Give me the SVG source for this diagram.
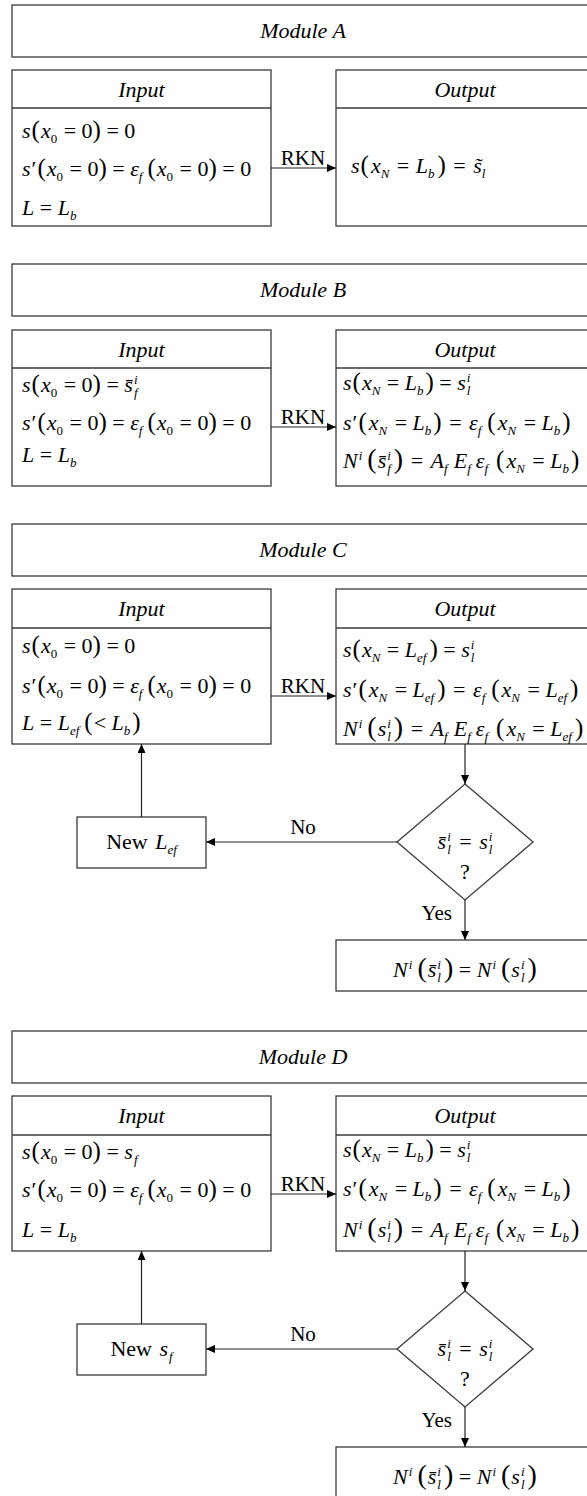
<svg xmlns="http://www.w3.org/2000/svg" width="587" height="1496" viewBox="0 0 587 1496">
  <style>
    .bx { fill: #fff; stroke: #3a3a3a; stroke-width: 1.3; }
    .sep { stroke: #3a3a3a; stroke-width: 1.3; }
    .cn { fill: none; stroke: #222; stroke-width: 1.2; }
    .m { font-family: "Liberation Serif", "DejaVu Serif", "Times New Roman", Times, serif; font-size: 22px; fill: #000; }
    .lb { font-family: "Liberation Serif", "DejaVu Serif", "Times New Roman", Times, serif; font-size: 21px; fill: #000; }
    .i { font-style: italic; }
    .s { font-size: 13px; }
    .p { font-size: 25px; }
    .P { font-size: 28px; }
    .c { text-anchor: middle; }
  </style>
  <defs>
    <marker id="ah" markerUnits="userSpaceOnUse" markerWidth="9" markerHeight="8" refX="9" refY="4" orient="auto">
      <path d="M0,0 L9,4 L0,8 z" fill="#000"/>
    </marker>
  </defs>

  <!-- ===== Module A ===== -->
  <g id="moduleA">
    <rect class="bx" x="12" y="5" width="582" height="52"/>
    <text class="m i c" x="303" y="38">Module A</text>
  </g>
  <g id="inputA">
    <rect class="bx" x="12" y="70" width="259" height="156"/>
    <line class="sep" x1="12" y1="108" x2="271" y2="108"/>
    <text class="m i c" x="141.5" y="97">Input</text>
    <text class="m" x="22" y="138"><tspan class="i">s</tspan><tspan class="p" dx="1">(</tspan><tspan class="i" dx="1">x</tspan><tspan class="s" dy="5">0</tspan><tspan dy="-5" dx="1"> = 0</tspan><tspan class="p">)</tspan> = 0</text>
    <text class="m" x="22" y="176"><tspan class="i">s</tspan><tspan dx="1">′</tspan><tspan class="p" dx="1">(</tspan><tspan class="i" dx="1">x</tspan><tspan class="s" dy="5">0</tspan><tspan dy="-5" dx="1"> = 0</tspan><tspan class="p">)</tspan> = <tspan class="i">ε</tspan><tspan class="s i" dy="5">f</tspan><tspan class="p" dy="-5" dx="5">(</tspan><tspan class="i" dx="1">x</tspan><tspan class="s" dy="5">0</tspan><tspan dy="-5" dx="1"> = 0</tspan><tspan class="p">)</tspan> = 0</text>
    <text class="m" x="22" y="215"><tspan class="i">L</tspan> = <tspan class="i">L</tspan><tspan class="s i" dy="5">b</tspan></text>
  </g>
  <g id="outputA">
    <rect class="bx" x="336" y="70" width="258" height="156"/>
    <line class="sep" x1="336" y1="108" x2="594" y2="108"/>
    <text class="m i c" x="465" y="97">Output</text>
    <text class="m" x="351" y="173"><tspan class="i">s</tspan><tspan class="p" dx="1">(</tspan><tspan class="i" dx="2">x</tspan><tspan class="s i" dy="5">N</tspan><tspan dy="-5" dx="2"> = </tspan><tspan class="i" dx="1">L</tspan><tspan class="s i" dy="5">b</tspan><tspan class="p" dy="-5" dx="3">)</tspan><tspan dx="2"> = </tspan><tspan class="i" dx="2">s̃</tspan><tspan class="s i" dy="5">l</tspan></text>
  </g>

  <!-- ===== Module B ===== -->
  <g id="moduleB">
    <rect class="bx" x="12" y="264" width="582" height="52"/>
    <text class="m i c" x="303" y="297">Module B</text>
  </g>
  <g id="inputB">
    <rect class="bx" x="12" y="330" width="259" height="156"/>
    <line class="sep" x1="12" y1="368" x2="271" y2="368"/>
    <text class="m i c" x="141.5" y="357">Input</text>
    <text class="m" x="22" y="392"><tspan class="i">s</tspan><tspan class="p" dx="1">(</tspan><tspan class="i" dx="1">x</tspan><tspan class="s" dy="5">0</tspan><tspan dy="-5" dx="1"> = 0</tspan><tspan class="p">)</tspan> = <tspan class="i">s̄</tspan><tspan class="s i" dy="-8" dx="1">i</tspan><tspan class="s i" dx="-3.6" dy="13">f</tspan></text>
    <text class="m" x="22" y="430"><tspan class="i">s</tspan><tspan dx="1">′</tspan><tspan class="p" dx="1">(</tspan><tspan class="i" dx="1">x</tspan><tspan class="s" dy="5">0</tspan><tspan dy="-5" dx="1"> = 0</tspan><tspan class="p">)</tspan> = <tspan class="i">ε</tspan><tspan class="s i" dy="5">f</tspan><tspan class="p" dy="-5" dx="5">(</tspan><tspan class="i" dx="1">x</tspan><tspan class="s" dy="5">0</tspan><tspan dy="-5" dx="1"> = 0</tspan><tspan class="p">)</tspan> = 0</text>
    <text class="m" x="22" y="462"><tspan class="i">L</tspan> = <tspan class="i">L</tspan><tspan class="s i" dy="5">b</tspan></text>
  </g>
  <g id="outputB">
    <rect class="bx" x="336" y="330" width="258" height="156"/>
    <line class="sep" x1="336" y1="368" x2="594" y2="368"/>
    <text class="m i c" x="465" y="357">Output</text>
    <text class="m" x="343" y="390"><tspan class="i">s</tspan><tspan class="p" dx="1">(</tspan><tspan class="i" dx="1">x</tspan><tspan class="s i" dy="5">N</tspan><tspan dy="-5" dx="1"> = </tspan><tspan class="i">L</tspan><tspan class="s i" dy="5">b</tspan><tspan class="p" dy="-5" dx="2">)</tspan> = <tspan class="i">s</tspan><tspan class="s i" dy="-8" dx="1">i</tspan><tspan class="s i" dx="-3.6" dy="13">l</tspan></text>
    <text class="m" x="343" y="430"><tspan class="i">s</tspan><tspan dx="1">′</tspan><tspan class="p" dx="1">(</tspan><tspan class="i" dx="2">x</tspan><tspan class="s i" dy="5">N</tspan><tspan dy="-5" dx="2"> = </tspan><tspan class="i">L</tspan><tspan class="s i" dy="5">b</tspan><tspan class="p" dy="-5" dx="2">)</tspan><tspan dx="2"> = </tspan><tspan class="i" dx="2">ε</tspan><tspan class="s i" dy="5">f</tspan><tspan class="p" dy="-5" dx="6">(</tspan><tspan class="i" dx="2">x</tspan><tspan class="s i" dy="5">N</tspan><tspan dy="-5" dx="2"> = </tspan><tspan class="i">L</tspan><tspan class="s i" dy="5">b</tspan><tspan class="p" dy="-5" dx="2">)</tspan></text>
    <text class="m" x="343" y="468"><tspan class="i">N</tspan><tspan class="s i" dy="-8" dx="1">i</tspan><tspan class="P" dy="8" dx="5">(</tspan><tspan class="i" dx="1">s̄</tspan><tspan class="s i" dy="-8" dx="1">i</tspan><tspan class="s i" dx="-3.6" dy="13">f</tspan><tspan class="P" dy="-5" dx="3">)</tspan><tspan dx="2"> = </tspan><tspan class="i" dx="2">A</tspan><tspan class="s i" dy="5">f</tspan><tspan class="i" dy="-5" dx="6">E</tspan><tspan class="s i" dy="5">f</tspan><tspan class="i" dy="-5" dx="5">ε</tspan><tspan class="s i" dy="5">f</tspan><tspan class="p" dy="-5" dx="8">(</tspan><tspan class="i" dx="2">x</tspan><tspan class="s i" dy="5">N</tspan><tspan dy="-5" dx="2"> = </tspan><tspan class="i">L</tspan><tspan class="s i" dy="5">b</tspan><tspan class="p" dy="-5" dx="2">)</tspan></text>
  </g>

  <!-- ===== Module C ===== -->
  <g id="moduleC">
    <rect class="bx" x="12" y="524" width="582" height="52"/>
    <text class="m i c" x="303" y="557">Module C</text>
  </g>
  <g id="inputC">
    <rect class="bx" x="12" y="589" width="259" height="155"/>
    <line class="sep" x1="12" y1="628" x2="271" y2="628"/>
    <text class="m i c" x="141.5" y="616">Input</text>
    <text class="m" x="22" y="653"><tspan class="i">s</tspan><tspan class="p" dx="1">(</tspan><tspan class="i" dx="1">x</tspan><tspan class="s" dy="5">0</tspan><tspan dy="-5" dx="1"> = 0</tspan><tspan class="p">)</tspan> = 0</text>
    <text class="m" x="22" y="693"><tspan class="i">s</tspan><tspan dx="1">′</tspan><tspan class="p" dx="1">(</tspan><tspan class="i" dx="1">x</tspan><tspan class="s" dy="5">0</tspan><tspan dy="-5" dx="1"> = 0</tspan><tspan class="p">)</tspan> = <tspan class="i">ε</tspan><tspan class="s i" dy="5">f</tspan><tspan class="p" dy="-5" dx="5">(</tspan><tspan class="i" dx="1">x</tspan><tspan class="s" dy="5">0</tspan><tspan dy="-5" dx="1"> = 0</tspan><tspan class="p">)</tspan> = 0</text>
    <text class="m" x="22" y="730"><tspan class="i">L</tspan> = <tspan class="i">L</tspan><tspan class="s i" dy="5">ef</tspan><tspan class="p" dy="-5" dx="5">(</tspan><tspan dx="1">&lt; </tspan><tspan class="i">L</tspan><tspan class="s i" dy="5">b</tspan><tspan class="p" dy="-5" dx="2">)</tspan></text>
  </g>
  <g id="outputC">
    <rect class="bx" x="336" y="589" width="258" height="155"/>
    <line class="sep" x1="336" y1="628" x2="594" y2="628"/>
    <text class="m i c" x="465" y="616">Output</text>
    <text class="m" x="343" y="657"><tspan class="i">s</tspan><tspan class="p" dx="1">(</tspan><tspan class="i" dx="1">x</tspan><tspan class="s i" dy="5">N</tspan><tspan dy="-5" dx="1"> = </tspan><tspan class="i">L</tspan><tspan class="s i" dy="5">ef</tspan><tspan class="p" dy="-5" dx="3">)</tspan> = <tspan class="i">s</tspan><tspan class="s i" dy="-8" dx="1">i</tspan><tspan class="s i" dx="-3.6" dy="13">l</tspan></text>
    <text class="m" x="343" y="697"><tspan class="i">s</tspan><tspan dx="1">′</tspan><tspan class="p" dx="1">(</tspan><tspan class="i" dx="2">x</tspan><tspan class="s i" dy="5">N</tspan><tspan dy="-5" dx="2"> = </tspan><tspan class="i">L</tspan><tspan class="s i" dy="5">ef</tspan><tspan class="p" dy="-5" dx="3">)</tspan><tspan dx="2"> = </tspan><tspan class="i" dx="2">ε</tspan><tspan class="s i" dy="5">f</tspan><tspan class="p" dy="-5" dx="6">(</tspan><tspan class="i" dx="2">x</tspan><tspan class="s i" dy="5">N</tspan><tspan dy="-5" dx="2"> = </tspan><tspan class="i">L</tspan><tspan class="s i" dy="5">ef</tspan><tspan class="p" dy="-5" dx="3">)</tspan></text>
    <text class="m" x="343" y="736"><tspan class="i">N</tspan><tspan class="s i" dy="-8" dx="1">i</tspan><tspan class="P" dy="8" dx="5">(</tspan><tspan class="i" dx="1">s</tspan><tspan class="s i" dy="-8" dx="1">i</tspan><tspan class="s i" dx="-3.6" dy="13">l</tspan><tspan class="P" dy="-5" dx="3">)</tspan><tspan dx="2"> = </tspan><tspan class="i" dx="2">A</tspan><tspan class="s i" dy="5">f</tspan><tspan class="i" dy="-5" dx="6">E</tspan><tspan class="s i" dy="5">f</tspan><tspan class="i" dy="-5" dx="5">ε</tspan><tspan class="s i" dy="5">f</tspan><tspan class="p" dy="-5" dx="8">(</tspan><tspan class="i" dx="2">x</tspan><tspan class="s i" dy="5">N</tspan><tspan dy="-5" dx="2"> = </tspan><tspan class="i">L</tspan><tspan class="s i" dy="5">ef</tspan><tspan class="p" dy="-5" dx="3">)</tspan></text>
  </g>
  <g id="decisionC">
    <polygon class="bx" points="465,784 533,842 465,900 397,842"/>
    <text class="m c" x="465" y="849"><tspan class="i">s̄</tspan><tspan class="s i" dy="-8" dx="1">i</tspan><tspan class="s i" dx="-3.6" dy="13">l</tspan><tspan dy="-5" dx="3"> = </tspan><tspan class="i" dx="2">s</tspan><tspan class="s i" dy="-8" dx="1">i</tspan><tspan class="s i" dx="-3.6" dy="13">l</tspan></text>
    <text class="m c" x="465" y="879">?</text>
  </g>
  <g id="newLefC">
    <rect class="bx" x="77" y="817" width="129" height="51"/>
    <text class="m c" x="141.5" y="849">New <tspan class="i" dx="2">L</tspan><tspan class="s i" dy="5">ef</tspan></text>
  </g>
  <g id="resultC">
    <rect class="bx" x="336" y="940" width="258" height="51"/>
    <text class="m c" x="465" y="977"><tspan class="i">N</tspan><tspan class="s i" dy="-8" dx="1">i</tspan><tspan class="P" dy="8" dx="5">(</tspan><tspan class="i" dx="1">s̄</tspan><tspan class="s i" dy="-8" dx="1">i</tspan><tspan class="s i" dx="-3.6" dy="13">l</tspan><tspan class="P" dy="-5" dx="3">)</tspan> = <tspan class="i">N</tspan><tspan class="s i" dy="-8" dx="1">i</tspan><tspan class="P" dy="8" dx="5">(</tspan><tspan class="i" dx="1">s</tspan><tspan class="s i" dy="-8" dx="1">i</tspan><tspan class="s i" dx="-3.6" dy="13">l</tspan><tspan class="P" dy="-5" dx="3">)</tspan></text>
  </g>

  <!-- ===== Module D ===== -->
  <g id="moduleD">
    <rect class="bx" x="12" y="1031" width="582" height="52"/>
    <text class="m i c" x="303" y="1064">Module D</text>
  </g>
  <g id="inputD">
    <rect class="bx" x="12" y="1096" width="259" height="155"/>
    <line class="sep" x1="12" y1="1135" x2="271" y2="1135"/>
    <text class="m i c" x="141.5" y="1123">Input</text>
    <text class="m" x="22" y="1159"><tspan class="i">s</tspan><tspan class="p" dx="1">(</tspan><tspan class="i" dx="1">x</tspan><tspan class="s" dy="5">0</tspan><tspan dy="-5" dx="1"> = 0</tspan><tspan class="p">)</tspan> = <tspan class="i">s</tspan><tspan class="s i" dy="5" dx="1">f</tspan></text>
    <text class="m" x="22" y="1197"><tspan class="i">s</tspan><tspan dx="1">′</tspan><tspan class="p" dx="1">(</tspan><tspan class="i" dx="1">x</tspan><tspan class="s" dy="5">0</tspan><tspan dy="-5" dx="1"> = 0</tspan><tspan class="p">)</tspan> = <tspan class="i">ε</tspan><tspan class="s i" dy="5">f</tspan><tspan class="p" dy="-5" dx="5">(</tspan><tspan class="i" dx="1">x</tspan><tspan class="s" dy="5">0</tspan><tspan dy="-5" dx="1"> = 0</tspan><tspan class="p">)</tspan> = 0</text>
    <text class="m" x="22" y="1237"><tspan class="i">L</tspan> = <tspan class="i">L</tspan><tspan class="s i" dy="5">b</tspan></text>
  </g>
  <g id="outputD">
    <rect class="bx" x="336" y="1096" width="258" height="155"/>
    <line class="sep" x1="336" y1="1135" x2="594" y2="1135"/>
    <text class="m i c" x="465" y="1123">Output</text>
    <text class="m" x="343" y="1157"><tspan class="i">s</tspan><tspan class="p" dx="1">(</tspan><tspan class="i" dx="1">x</tspan><tspan class="s i" dy="5">N</tspan><tspan dy="-5" dx="1"> = </tspan><tspan class="i">L</tspan><tspan class="s i" dy="5">b</tspan><tspan class="p" dy="-5" dx="2">)</tspan> = <tspan class="i">s</tspan><tspan class="s i" dy="-8" dx="1">i</tspan><tspan class="s i" dx="-3.6" dy="13">l</tspan></text>
    <text class="m" x="343" y="1196"><tspan class="i">s</tspan><tspan dx="1">′</tspan><tspan class="p" dx="1">(</tspan><tspan class="i" dx="2">x</tspan><tspan class="s i" dy="5">N</tspan><tspan dy="-5" dx="2"> = </tspan><tspan class="i">L</tspan><tspan class="s i" dy="5">b</tspan><tspan class="p" dy="-5" dx="2">)</tspan><tspan dx="2"> = </tspan><tspan class="i" dx="2">ε</tspan><tspan class="s i" dy="5">f</tspan><tspan class="p" dy="-5" dx="6">(</tspan><tspan class="i" dx="2">x</tspan><tspan class="s i" dy="5">N</tspan><tspan dy="-5" dx="2"> = </tspan><tspan class="i">L</tspan><tspan class="s i" dy="5">b</tspan><tspan class="p" dy="-5" dx="2">)</tspan></text>
    <text class="m" x="343" y="1237"><tspan class="i">N</tspan><tspan class="s i" dy="-8" dx="1">i</tspan><tspan class="P" dy="8" dx="5">(</tspan><tspan class="i" dx="1">s</tspan><tspan class="s i" dy="-8" dx="1">i</tspan><tspan class="s i" dx="-3.6" dy="13">l</tspan><tspan class="P" dy="-5" dx="3">)</tspan><tspan dx="2"> = </tspan><tspan class="i" dx="2">A</tspan><tspan class="s i" dy="5">f</tspan><tspan class="i" dy="-5" dx="6">E</tspan><tspan class="s i" dy="5">f</tspan><tspan class="i" dy="-5" dx="5">ε</tspan><tspan class="s i" dy="5">f</tspan><tspan class="p" dy="-5" dx="8">(</tspan><tspan class="i" dx="2">x</tspan><tspan class="s i" dy="5">N</tspan><tspan dy="-5" dx="2"> = </tspan><tspan class="i">L</tspan><tspan class="s i" dy="5">b</tspan><tspan class="p" dy="-5" dx="2">)</tspan></text>
  </g>
  <g id="decisionD">
    <polygon class="bx" points="465,1291 533,1349 465,1407 397,1349"/>
    <text class="m c" x="465" y="1356"><tspan class="i">s̄</tspan><tspan class="s i" dy="-8" dx="1">i</tspan><tspan class="s i" dx="-3.6" dy="13">l</tspan><tspan dy="-5" dx="3"> = </tspan><tspan class="i" dx="2">s</tspan><tspan class="s i" dy="-8" dx="1">i</tspan><tspan class="s i" dx="-3.6" dy="13">l</tspan></text>
    <text class="m c" x="465" y="1386">?</text>
  </g>
  <g id="newSfD">
    <rect class="bx" x="77" y="1324" width="129" height="51"/>
    <text class="m c" x="141.5" y="1356">New <tspan class="i" dx="2">s</tspan><tspan class="s i" dy="5" dx="1">f</tspan></text>
  </g>
  <g id="resultD">
    <rect class="bx" x="336" y="1447" width="258" height="51"/>
    <text class="m c" x="465" y="1484"><tspan class="i">N</tspan><tspan class="s i" dy="-8" dx="1">i</tspan><tspan class="P" dy="8" dx="5">(</tspan><tspan class="i" dx="1">s̄</tspan><tspan class="s i" dy="-8" dx="1">i</tspan><tspan class="s i" dx="-3.6" dy="13">l</tspan><tspan class="P" dy="-5" dx="3">)</tspan> = <tspan class="i">N</tspan><tspan class="s i" dy="-8" dx="1">i</tspan><tspan class="P" dy="8" dx="5">(</tspan><tspan class="i" dx="1">s</tspan><tspan class="s i" dy="-8" dx="1">i</tspan><tspan class="s i" dx="-3.6" dy="13">l</tspan><tspan class="P" dy="-5" dx="3">)</tspan></text>
  </g>

  <!-- ===== Connectors ===== -->
  <g id="connectors">
    <path class="cn" d="M271,168 H336" marker-end="url(#ah)"/>
    <path class="cn" d="M271,427 H336" marker-end="url(#ah)"/>
    <path class="cn" d="M271,696 H336" marker-end="url(#ah)"/>
    <path class="cn" d="M271,1194 H336" marker-end="url(#ah)"/>

    <path class="cn" d="M465,744 V784" marker-end="url(#ah)"/>
    <path class="cn" d="M397,842 H206" marker-end="url(#ah)"/>
    <path class="cn" d="M141.5,817 V744" marker-end="url(#ah)"/>
    <path class="cn" d="M465,900 V940" marker-end="url(#ah)"/>

    <path class="cn" d="M465,1251 V1291" marker-end="url(#ah)"/>
    <path class="cn" d="M397,1349 H206" marker-end="url(#ah)"/>
    <path class="cn" d="M141.5,1324 V1251" marker-end="url(#ah)"/>
    <path class="cn" d="M465,1407 V1447" marker-end="url(#ah)"/>

    <g class="lb">
      <text x="303" y="165" class="c">RKN</text>
      <text x="303" y="424" class="c">RKN</text>
      <text x="303" y="693" class="c">RKN</text>
      <text x="303" y="1191" class="c">RKN</text>
      <text x="303" y="834" class="c">No</text>
      <text x="452" y="920" text-anchor="end">Yes</text>
      <text x="303" y="1341" class="c">No</text>
      <text x="452" y="1427" text-anchor="end">Yes</text>
    </g>
  </g>
</svg>
